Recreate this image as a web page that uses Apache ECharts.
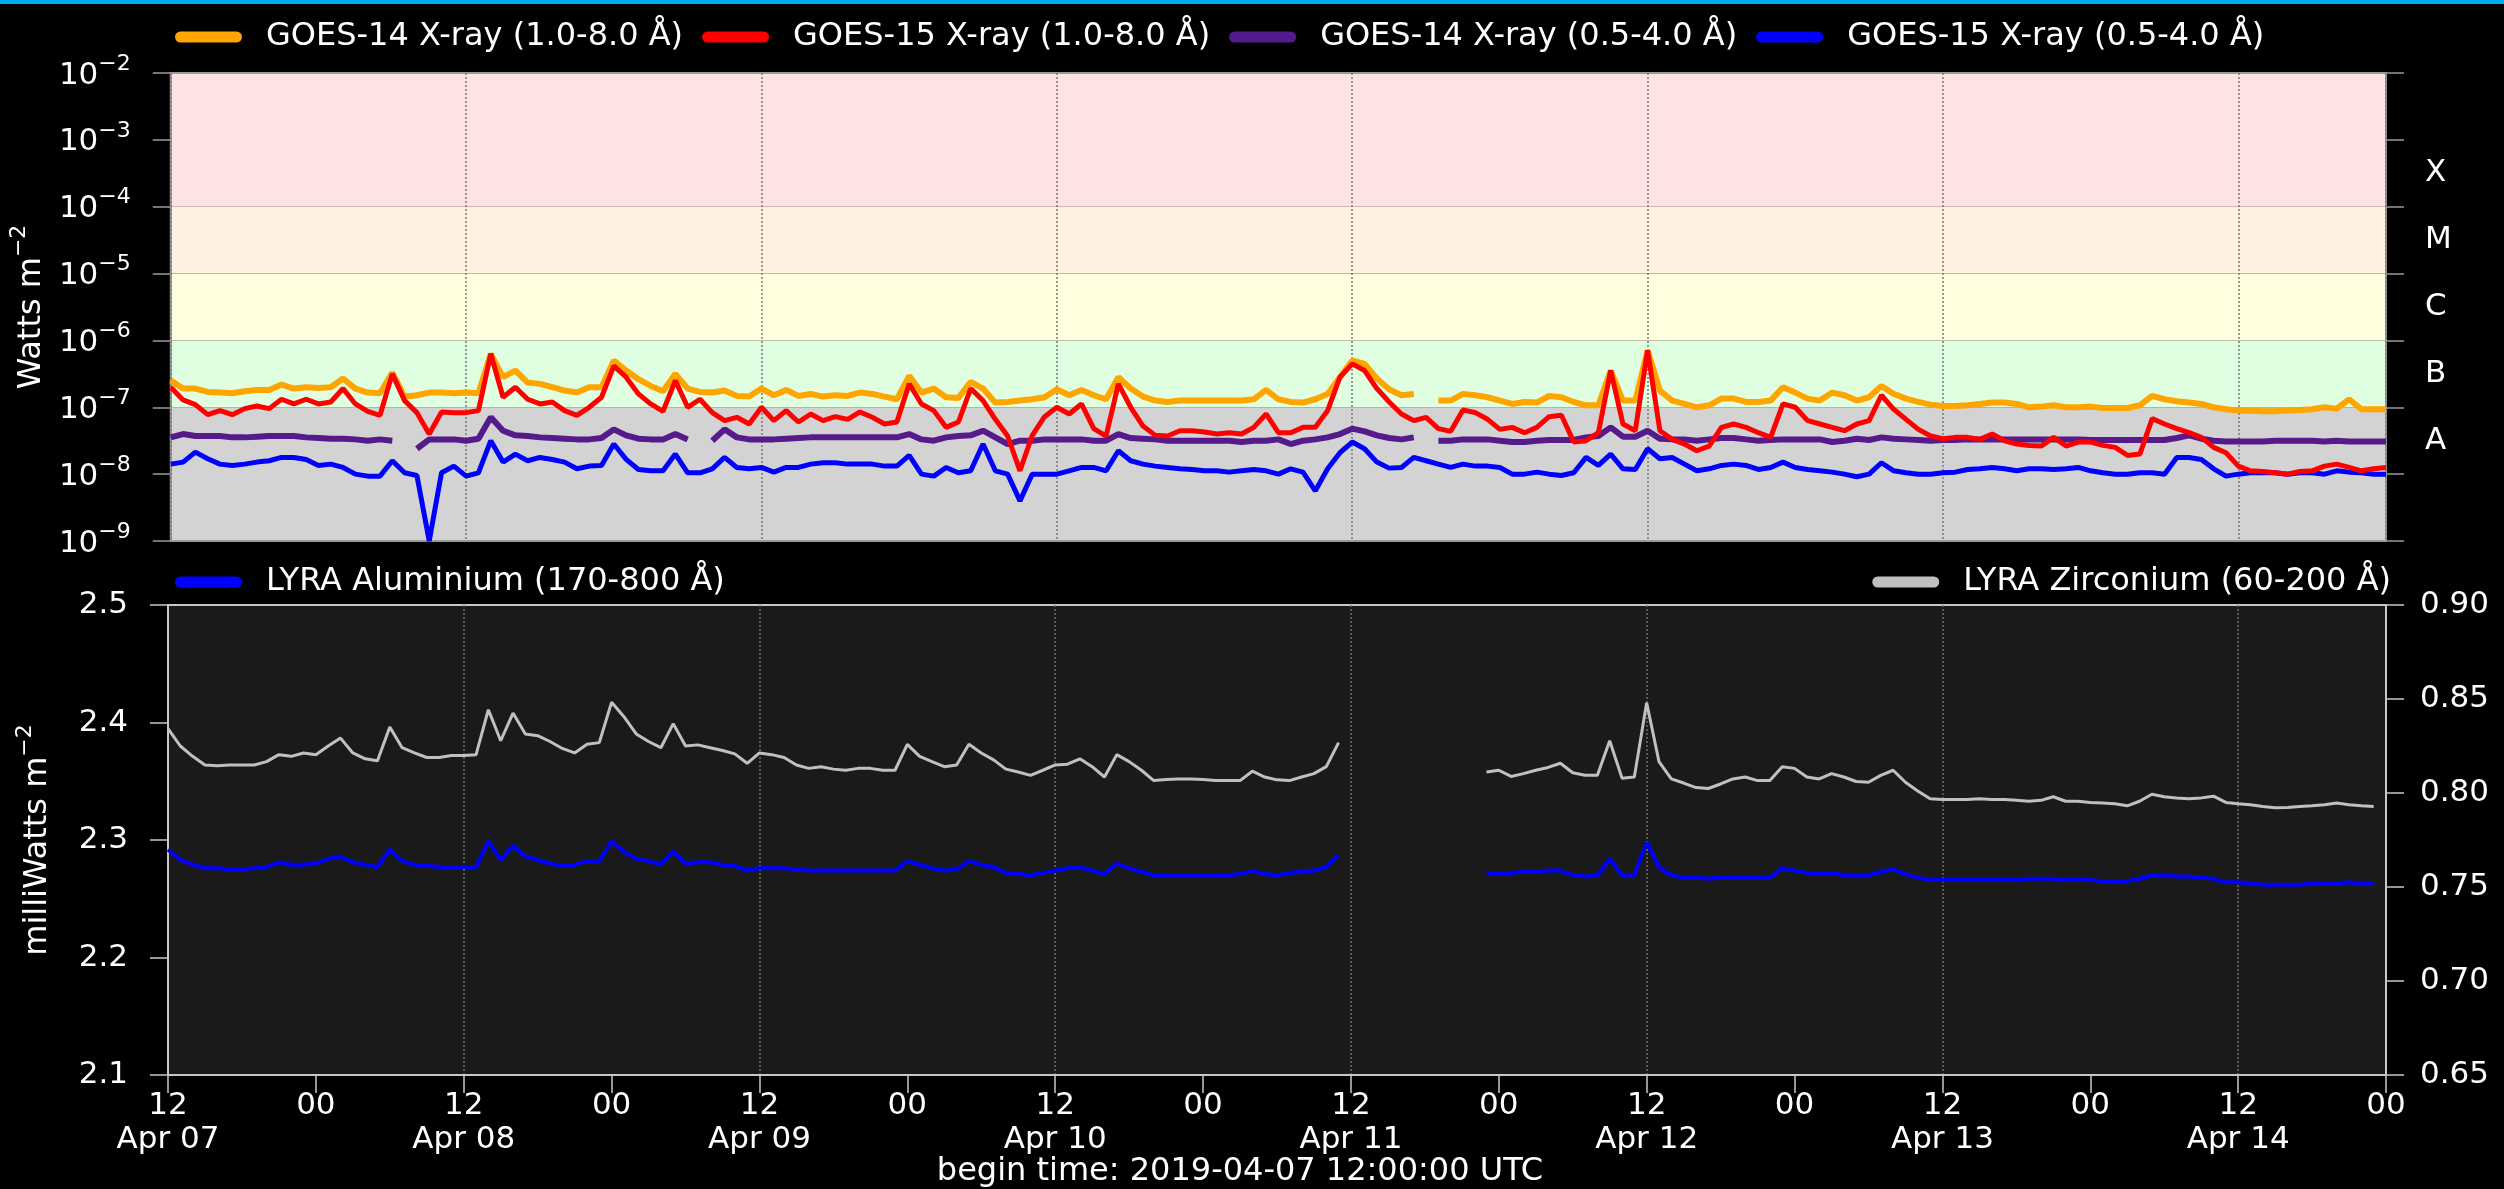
<!DOCTYPE html>
<html>
<head>
<meta charset="utf-8">
<script src="https://cdn.jsdelivr.net/npm/echarts@6/dist/echarts.min.js"></script>
<style>
html,body{margin:0;padding:0;background:#000;}
#chart{width:2504px;height:1189px;}
</style>
</head>
<body>
<div id="chart"></div>
<script>
// ---- time axis: hours since begin time 2019-04-07 12:00 UTC, hourly samples ----
const dayLabels = ['Apr 07','Apr 08','Apr 09','Apr 10','Apr 11','Apr 12','Apr 13','Apr 14'];
const hourLabels = ['12','00'];
const flareClasses = ['', 'A', 'B', 'C', 'M', 'X', ''];
const fluxTickExponents = [-9,-8,-7,-6,-5,-4,-3,-2];

// GOES fluxes, stored as log10(W m^-2), one value per hour (h0..h180)
const goes14Long = [
-6.60,-6.72,-6.72,-6.77,-6.78,-6.79,-6.76,-6.74,-6.74,-6.66,-6.72,-6.70,
-6.71,-6.70,-6.57,-6.72,-6.78,-6.79,-6.48,-6.84,-6.82,-6.78,-6.78,-6.79,
-6.78,-6.79,-6.20,-6.55,-6.45,-6.63,-6.65,-6.70,-6.75,-6.78,-6.70,-6.70,
-6.30,-6.45,-6.58,-6.68,-6.76,-6.50,-6.72,-6.77,-6.78,-6.75,-6.83,-6.84,
-6.72,-6.82,-6.74,-6.83,-6.80,-6.84,-6.82,-6.83,-6.78,-6.80,-6.84,-6.88,
-6.53,-6.78,-6.72,-6.85,-6.86,-6.62,-6.72,-6.93,-6.92,-6.90,-6.88,-6.85,
-6.73,-6.82,-6.74,-6.82,-6.88,-6.55,-6.72,-6.84,-6.90,-6.92,-6.90,-6.90,
-6.90,-6.90,-6.90,-6.90,-6.88,-6.74,-6.88,-6.92,-6.93,-6.88,-6.80,-6.55,
-6.30,-6.35,-6.57,-6.73,-6.82,-6.80,null,-6.90,-6.90,-6.80,-6.82,-6.85,
-6.90,-6.95,-6.92,-6.93,-6.83,-6.85,-6.92,-6.97,-6.97,-6.45,-6.90,-6.90,
-6.15,-6.75,-6.90,-6.95,-7.00,-6.97,-6.87,-6.87,-6.92,-6.92,-6.90,-6.70,
-6.78,-6.87,-6.90,-6.78,-6.82,-6.90,-6.85,-6.68,-6.80,-6.87,-6.92,-6.96,
-6.98,-6.98,-6.97,-6.95,-6.93,-6.93,-6.95,-7.00,-6.99,-6.97,-7.00,-7.00,
-6.99,-7.01,-7.01,-7.01,-6.97,-6.83,-6.88,-6.91,-6.93,-6.95,-7.00,-7.03,
-7.05,-7.05,-7.06,-7.06,-7.05,-7.04,-7.03,-7.00,-7.02,-6.88,-7.03,-7.03,
-7.03];
const goes15Long = [
-6.70,-6.89,-6.96,-7.11,-7.05,-7.11,-7.02,-6.98,-7.02,-6.88,-6.95,-6.88,
-6.95,-6.92,-6.72,-6.95,-7.06,-7.12,-6.50,-6.90,-7.08,-7.40,-7.07,-7.08,
-7.08,-7.05,-6.20,-6.85,-6.70,-6.88,-6.95,-6.92,-7.05,-7.12,-7.00,-6.85,
-6.38,-6.55,-6.80,-6.95,-7.06,-6.60,-7.00,-6.88,-7.08,-7.20,-7.15,-7.25,
-7.00,-7.20,-7.05,-7.22,-7.10,-7.20,-7.14,-7.18,-7.07,-7.15,-7.25,-7.22,
-6.65,-6.95,-7.05,-7.30,-7.22,-6.72,-6.90,-7.18,-7.43,-7.95,-7.42,-7.14,
-7.00,-7.10,-6.95,-7.32,-7.43,-6.65,-7.00,-7.28,-7.42,-7.43,-7.35,-7.35,
-7.37,-7.40,-7.38,-7.40,-7.30,-7.10,-7.38,-7.38,-7.30,-7.30,-7.05,-6.55,
-6.35,-6.45,-6.72,-6.92,-7.10,-7.20,-7.15,-7.32,-7.36,-7.04,-7.08,-7.18,
-7.33,-7.30,-7.38,-7.30,-7.14,-7.12,-7.52,-7.50,-7.38,-6.45,-7.25,-7.35,
-6.15,-7.35,-7.48,-7.55,-7.65,-7.58,-7.30,-7.25,-7.30,-7.38,-7.45,-6.95,
-7.00,-7.20,-7.25,-7.30,-7.35,-7.25,-7.20,-6.82,-7.03,-7.18,-7.33,-7.43,
-7.47,-7.45,-7.45,-7.48,-7.40,-7.50,-7.55,-7.57,-7.58,-7.45,-7.58,-7.52,
-7.52,-7.57,-7.60,-7.72,-7.70,-7.17,-7.25,-7.32,-7.38,-7.45,-7.60,-7.68,
-7.88,-7.95,-7.96,-7.98,-8.00,-7.96,-7.95,-7.88,-7.85,-7.90,-7.95,-7.92,
-7.90];
const goes14Short = [
-7.45,-7.40,-7.43,-7.43,-7.43,-7.45,-7.45,-7.44,-7.43,-7.43,-7.43,-7.45,
-7.46,-7.47,-7.47,-7.48,-7.50,-7.48,-7.50,null,-7.62,-7.48,-7.48,-7.48,
-7.50,-7.47,-7.15,-7.35,-7.42,-7.43,-7.45,-7.46,-7.47,-7.48,-7.48,-7.46,
-7.33,-7.42,-7.47,-7.48,-7.48,-7.40,-7.48,null,-7.50,-7.33,-7.45,-7.48,
-7.48,-7.48,-7.47,-7.46,-7.45,-7.45,-7.45,-7.45,-7.45,-7.45,-7.45,-7.45,
-7.40,-7.48,-7.50,-7.45,-7.43,-7.42,-7.35,-7.45,-7.55,-7.50,-7.50,-7.48,
-7.48,-7.48,-7.48,-7.50,-7.50,-7.40,-7.46,-7.47,-7.48,-7.50,-7.50,-7.50,
-7.50,-7.50,-7.50,-7.52,-7.50,-7.50,-7.48,-7.55,-7.50,-7.48,-7.45,-7.40,
-7.32,-7.36,-7.42,-7.46,-7.48,-7.45,null,-7.50,-7.50,-7.48,-7.48,-7.48,
-7.50,-7.52,-7.52,-7.50,-7.49,-7.49,-7.49,-7.45,-7.43,-7.30,-7.44,-7.44,
-7.35,-7.47,-7.48,-7.48,-7.50,-7.48,-7.46,-7.46,-7.48,-7.50,-7.49,-7.48,
-7.48,-7.48,-7.48,-7.52,-7.50,-7.47,-7.49,-7.45,-7.47,-7.48,-7.49,-7.50,
-7.49,-7.49,-7.48,-7.48,-7.48,-7.48,-7.48,-7.48,-7.48,-7.48,-7.48,-7.48,
-7.49,-7.49,-7.49,-7.49,-7.49,-7.49,-7.49,-7.46,-7.42,-7.47,-7.50,-7.51,
-7.51,-7.51,-7.51,-7.50,-7.50,-7.50,-7.50,-7.51,-7.50,-7.51,-7.51,-7.51,
-7.51];
const goes15Short = [
-7.85,-7.82,-7.67,-7.77,-7.85,-7.87,-7.85,-7.82,-7.80,-7.75,-7.75,-7.78,
-7.87,-7.85,-7.90,-8.00,-8.03,-8.03,-7.80,-7.98,-8.02,-9.00,-7.98,-7.88,
-8.03,-7.98,-7.50,-7.82,-7.70,-7.80,-7.75,-7.78,-7.82,-7.92,-7.88,-7.87,
-7.55,-7.78,-7.93,-7.95,-7.95,-7.70,-7.98,-7.98,-7.92,-7.75,-7.90,-7.92,
-7.90,-7.97,-7.90,-7.90,-7.85,-7.83,-7.83,-7.85,-7.85,-7.85,-7.88,-7.88,
-7.72,-8.00,-8.03,-7.90,-7.98,-7.95,-7.55,-7.95,-8.00,-8.40,-8.00,-8.00,
-8.00,-7.95,-7.90,-7.90,-7.95,-7.65,-7.80,-7.85,-7.88,-7.90,-7.92,-7.93,
-7.95,-7.95,-7.97,-7.95,-7.93,-7.95,-8.00,-7.92,-7.97,-8.25,-7.92,-7.68,
-7.52,-7.62,-7.82,-7.91,-7.90,-7.75,-7.80,-7.85,-7.90,-7.85,-7.88,-7.88,
-7.90,-8.00,-8.00,-7.97,-8.00,-8.02,-7.98,-7.75,-7.87,-7.70,-7.92,-7.93,
-7.62,-7.77,-7.75,-7.85,-7.95,-7.92,-7.87,-7.85,-7.87,-7.93,-7.90,-7.82,
-7.90,-7.93,-7.95,-7.97,-8.00,-8.04,-8.00,-7.83,-7.95,-7.98,-8.00,-8.00,
-7.98,-7.97,-7.93,-7.92,-7.90,-7.92,-7.95,-7.92,-7.92,-7.93,-7.92,-7.90,
-7.95,-7.98,-8.00,-8.00,-7.98,-7.98,-8.00,-7.75,-7.75,-7.78,-7.92,-8.03,
-8.00,-7.98,-7.98,-7.98,-8.00,-7.98,-7.98,-8.00,-7.95,-7.97,-7.98,-8.00,
-8.00];

// LYRA irradiances (mW m^-2), one value per hour (h0..h180)
const lyraAl = [
2.292,2.283,2.279,2.276,2.276,2.275,2.275,2.276,2.277,2.281,2.279,2.279,
2.280,2.284,2.286,2.281,2.279,2.277,2.292,2.282,2.279,2.278,2.277,2.277,
2.277,2.277,2.299,2.283,2.295,2.286,2.283,2.280,2.278,2.279,2.282,2.282,
2.299,2.290,2.284,2.282,2.279,2.290,2.280,2.281,2.281,2.279,2.278,2.274,
2.276,2.276,2.276,2.275,2.274,2.274,2.274,2.274,2.274,2.274,2.274,2.274,
2.282,2.279,2.276,2.274,2.275,2.282,2.279,2.277,2.272,2.271,2.270,2.272,
2.274,2.276,2.277,2.274,2.271,2.280,2.276,2.273,2.270,2.270,2.270,2.270,
2.270,2.270,2.270,2.271,2.274,2.271,2.270,2.272,2.273,2.274,2.277,2.287,
null,null,null,null,null,null,null,null,null,null,null,2.272,
2.272,2.272,2.273,2.273,2.274,2.274,2.270,2.269,2.270,2.284,2.270,2.270,
2.298,2.277,2.270,2.268,2.268,2.267,2.268,2.268,2.268,2.268,2.268,2.276,
2.274,2.272,2.272,2.272,2.270,2.270,2.270,2.273,2.275,2.271,2.268,2.266,
2.266,2.266,2.266,2.266,2.266,2.266,2.266,2.267,2.267,2.267,2.266,2.266,
2.266,2.265,2.265,2.265,2.267,2.270,2.270,2.269,2.269,2.268,2.267,2.264,
2.264,2.263,2.262,2.262,2.262,2.262,2.263,2.263,2.263,2.264,2.263,2.263,
null];
const lyraZr = [
0.8342,0.8250,0.8195,0.8149,0.8145,0.8149,0.8149,0.8149,0.8167,0.8204,0.8195,0.8213,
0.8204,0.8250,0.8292,0.8213,0.8182,0.8171,0.8351,0.8241,0.8213,0.8189,0.8189,0.8200,
0.8200,0.8204,0.8443,0.8278,0.8425,0.8314,0.8305,0.8274,0.8237,0.8213,0.8259,0.8268,
0.8483,0.8406,0.8314,0.8274,0.8241,0.8369,0.8250,0.8256,0.8241,0.8226,0.8208,0.8158,
0.8213,0.8204,0.8189,0.8149,0.8131,0.8140,0.8127,0.8121,0.8131,0.8131,0.8121,0.8121,
0.8259,0.8195,0.8167,0.8140,0.8149,0.8259,0.8213,0.8176,0.8127,0.8112,0.8094,0.8121,
0.8149,0.8153,0.8182,0.8140,0.8085,0.8204,0.8167,0.8121,0.8066,0.8072,0.8075,0.8075,
0.8072,0.8066,0.8066,0.8066,0.8116,0.8085,0.8070,0.8066,0.8085,0.8103,0.8140,0.8268,
null,null,null,null,null,null,null,null,null,null,null,0.8112,
0.8121,0.8088,0.8103,0.8121,0.8136,0.8158,0.8108,0.8094,0.8094,0.8278,0.8079,0.8085,
0.8480,0.8167,0.8075,0.8053,0.8029,0.8024,0.8048,0.8075,0.8085,0.8066,0.8066,0.8140,
0.8131,0.8085,0.8075,0.8103,0.8085,0.8061,0.8057,0.8094,0.8121,0.8057,0.8011,0.7969,
0.7965,0.7965,0.7965,0.7969,0.7965,0.7965,0.7961,0.7956,0.7961,0.7980,0.7956,0.7956,
0.7950,0.7947,0.7943,0.7932,0.7956,0.7993,0.7980,0.7974,0.7969,0.7974,0.7983,0.7950,
0.7943,0.7937,0.7928,0.7921,0.7923,0.7928,0.7932,0.7937,0.7947,0.7937,0.7932,0.7928,
null];

const names = {
  g14l: 'GOES-14 X-ray (1.0-8.0 Å)',
  g15l: 'GOES-15 X-ray (1.0-8.0 Å)',
  g14s: 'GOES-14 X-ray (0.5-4.0 Å)',
  g15s: 'GOES-15 X-ray (0.5-4.0 Å)',
  al: 'LYRA Aluminium (170-800 Å)',
  zr: 'LYRA Zirconium (60-200 Å)'
};
const colors = { g14l:'#ffa500', g15l:'#ff0000', g14s:'#551a8b', g15s:'#0000ff', al:'#0000ff', zr:'#c0c0c0' };

const toFlux = arr => arr.map((v, i) => [i, v == null ? null : Math.pow(10, v)]);
const toPairs = arr => arr.map((v, i) => [i, v]);

const FONT = 'DejaVu Sans';
const legendIcon = 'path://M5.5,0H61.5A5.5,5.5,0,0,1,61.5,11H5.5A5.5,5.5,0,0,1,5.5,0Z';
const supRich = {
  b: { fontSize: 31, color: '#ffffff', fontFamily: FONT, lineHeight: 36, verticalAlign: 'bottom' },
  s: { fontSize: 22, color: '#ffffff', fontFamily: FONT, lineHeight: 24, padding: [0, 0, 16, 0], verticalAlign: 'bottom' }
};
const nameRich = {
  b: { fontSize: 32, color: '#fff', fontFamily: FONT, lineHeight: 38, verticalAlign: 'bottom' },
  s: { fontSize: 22, color: '#fff', fontFamily: FONT, lineHeight: 24, padding: [0, 0, 18, 0], verticalAlign: 'bottom' }
};

const goesLine = (key, arr, w) => ({
  name: names[key], type: 'line', xAxisIndex: 0, yAxisIndex: 0,
  data: toFlux(arr), showSymbol: false, symbol: 'none',
  lineStyle: { color: colors[key], width: w }, itemStyle: { color: colors[key] },
  connectNulls: false, silent: true, animation: false, z: 2
});

const chart = echarts.init(document.getElementById('chart'), null, { renderer: 'canvas' });
const option = {
  backgroundColor: '#000000',
  animation: false,
  textStyle: { fontFamily: FONT },
  graphic: [
    { type: 'rect', left: 0, top: 0, shape: { width: 2504, height: 4 }, style: { fill: '#00aeef' } },
    { type: 'text', x: 1240, y: 1172, style: { text: 'begin time: 2019-04-07 12:00:00 UTC', fill: '#ffffff',
      font: '32px "DejaVu Sans"', textAlign: 'center', textVerticalAlign: 'middle' } }
  ],
  legend: [
    { data: [names.g14l, names.g15l, names.g14s, names.g15s], left: 170, top: 12, itemWidth: 67, itemHeight: 11,
      itemGap: 19, icon: legendIcon, selectedMode: false,
      textStyle: { color: '#ffffff', fontSize: 32, fontFamily: FONT, padding: [0, 0, 0, 19], lineHeight: 40 } },
    { data: [names.al], left: 170, top: 557, itemWidth: 67, itemHeight: 11, icon: legendIcon, selectedMode: false,
      textStyle: { color: '#ffffff', fontSize: 32, fontFamily: FONT, padding: [0, 0, 0, 19], lineHeight: 40 } },
    { data: [names.zr], right: 108, top: 557, itemWidth: 67, itemHeight: 11, icon: legendIcon, selectedMode: false,
      textStyle: { color: '#ffffff', fontSize: 32, fontFamily: FONT, padding: [0, 0, 0, 19], lineHeight: 40 } }
  ],
  grid: [
    { left: 168, top: 73, width: 2218, height: 468, show: true, borderColor: '#9a9a9a', borderWidth: 2,
      backgroundColor: 'transparent', z: 1 },
    { left: 168, top: 605, width: 2218, height: 470, show: true, borderColor: '#c8c8c8', borderWidth: 2,
      backgroundColor: '#1a1a1a' }
  ],
  xAxis: [
    { gridIndex: 0, type: 'value', min: 0, max: 180, interval: 24, z: 1,
      axisLine: { show: false, onZero: false }, axisTick: { show: false }, axisLabel: { show: false },
      splitLine: { show: true, lineStyle: { color: '#7a7a7a', type: [2, 2], width: 1.5 } } },
    { gridIndex: 1, type: 'value', min: 0, max: 180, interval: 12,
      axisLine: { show: true, onZero: false, lineStyle: { color: '#c8c8c8', width: 2 } },
      axisTick: { show: true, length: 18, lineStyle: { color: '#c8c8c8', width: 1.5 } },
      axisLabel: { show: true, color: '#ffffff', fontSize: 31, fontFamily: FONT, margin: 14, lineHeight: 34,
        showMinLabel: true, showMaxLabel: true, hideOverlap: false,
        formatter: v => { const h = Math.round(v); return (h % 24 === 0) ? hourLabels[0] + '\n' + dayLabels[h / 24] : hourLabels[1]; } },
      splitLine: { show: false } },
    { gridIndex: 1, type: 'value', min: 0, max: 180, interval: 24, show: true,
      axisLine: { show: false, onZero: false }, axisTick: { show: false }, axisLabel: { show: false },
      splitLine: { show: true, lineStyle: { color: '#6e6e6e', type: [2, 2], width: 1.5 } } }
  ],
  yAxis: [
    { gridIndex: 0, type: 'log', logBase: 10, min: 1e-9, max: 1e-2, position: 'left',
      name: '{b|Watts m}{s|−2}', nameLocation: 'middle', nameGap: 114, nameRotate: 90,
      nameTextStyle: { rich: nameRich },
      axisLine: { show: true, onZero: false, lineStyle: { color: '#9a9a9a', width: 2 } },
      axisTick: { show: true, length: 18, lineStyle: { color: '#9a9a9a', width: 1.5 } },
      axisLabel: { margin: 40, rich: supRich,
        formatter: v => { const e = Math.round(Math.log10(v)); return fluxTickExponents.indexOf(e) >= 0 ? '{b|10}{s|−' + (-e) + '}' : ''; } },
      splitLine: { show: false } },
    { gridIndex: 0, type: 'category', position: 'right', data: flareClasses, boundaryGap: true,
      axisLine: { show: true, onZero: false, lineStyle: { color: '#9a9a9a', width: 2 } },
      axisTick: { show: true, length: 18, alignWithLabel: false, interval: 0, lineStyle: { color: '#9a9a9a', width: 1.5 } },
      axisLabel: { show: true, interval: 0, margin: 39, color: '#ffffff', fontSize: 31, fontFamily: FONT, align: 'left' },
      splitLine: { show: false } },
    { gridIndex: 1, type: 'value', min: 2.1, max: 2.5, interval: 0.1, position: 'left',
      name: '{b|milliWatts m}{s|−2}', nameLocation: 'middle', nameGap: 114, nameRotate: 90,
      nameTextStyle: { rich: nameRich },
      axisLine: { show: true, onZero: false, lineStyle: { color: '#c8c8c8', width: 2 } },
      axisTick: { show: true, length: 18, lineStyle: { color: '#c8c8c8', width: 1.5 } },
      axisLabel: { margin: 40, color: '#ffffff', fontSize: 31, fontFamily: FONT, formatter: v => v.toFixed(1) },
      splitLine: { show: false } },
    { gridIndex: 1, type: 'value', min: 0.65, max: 0.90, interval: 0.05, position: 'right',
      axisLine: { show: true, onZero: false, lineStyle: { color: '#c8c8c8', width: 2 } },
      axisTick: { show: true, length: 18, lineStyle: { color: '#c8c8c8', width: 1.5 } },
      axisLabel: { margin: 34, color: '#ffffff', fontSize: 31, fontFamily: FONT, formatter: v => v.toFixed(2) },
      splitLine: { show: false } }
  ],
  series: [
    { name: 'flare-class bands', type: 'line', xAxisIndex: 0, yAxisIndex: 0, data: [], z: 0, silent: true,
      markArea: { silent: true, z: 0, data: [
        [{ yAxis: 1e-9, itemStyle: { color: '#d3d3d3' } }, { yAxis: 1e-7 }],
        [{ yAxis: 1e-7, itemStyle: { color: '#e0ffe0' } }, { yAxis: 1e-6 }],
        [{ yAxis: 1e-6, itemStyle: { color: '#ffffe0' } }, { yAxis: 1e-5 }],
        [{ yAxis: 1e-5, itemStyle: { color: '#fff0e2' } }, { yAxis: 1e-4 }],
        [{ yAxis: 1e-4, itemStyle: { color: '#ffe2e4' } }, { yAxis: 1e-2 }]
      ] } },
    goesLine('g14l', goes14Long, 6),
    goesLine('g14s', goes14Short, 6),
    goesLine('g15s', goes15Short, 5),
    goesLine('g15l', goes15Long, 5),
    { name: names.al, type: 'line', xAxisIndex: 1, yAxisIndex: 2, data: toPairs(lyraAl), showSymbol: false, symbol: 'none',
      lineStyle: { color: colors.al, width: 4 }, itemStyle: { color: colors.al }, silent: true, z: 2 },
    { name: names.zr, type: 'line', xAxisIndex: 1, yAxisIndex: 3, data: toPairs(lyraZr), showSymbol: false, symbol: 'none',
      lineStyle: { color: colors.zr, width: 3 }, itemStyle: { color: colors.zr }, silent: true, z: 2 }
  ]
};
chart.setOption(option);
</script>
</body>
</html>
